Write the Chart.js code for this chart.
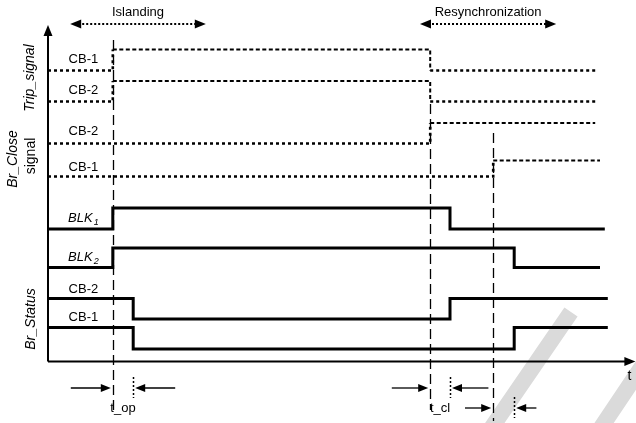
<!DOCTYPE html>
<html>
<head>
<meta charset="utf-8">
<title>Islanding and resynchronization timing</title>
<style>
  html, body { margin: 0; padding: 0; background: #ffffff; }
  #wrap { width: 636px; height: 423px; }
</style>
<script src="https://cdn.jsdelivr.net/npm/chart.js@4/dist/chart.umd.min.js"></script>
</head>
<body>
<div id="wrap"><canvas id="timing" width="636" height="423"></canvas></div>
<script>
// ---- Signals, top to bottom ----
const rowNames = ['CB-1', 'CB-2', 'CB-2', 'CB-1', 'BLK', 'BLK', 'CB-2', 'CB-1'];
const rowSubscripts = ['', '', '', '', '1', '2', '', ''];
const groupNames = ['Trip_signal', 'Br_Close', 'signal', 'Br_Status'];

// Switching instants (time units) and the logic state held from each instant on
const switchTimes = [
  [0, 10.8, 63.7, 91.3],   // Trip_signal CB-1
  [0, 10.8, 63.7, 91.3],   // Trip_signal CB-2
  [0, 63.7, 91.2],         // Br_Close CB-2
  [0, 74.2, 92.0],         // Br_Close CB-1
  [0, 10.8, 67.0, 92.8],   // BLK1
  [0, 10.8, 77.7, 92.0],   // BLK2
  [0, 14.2, 67.0, 93.3],   // Br_Status CB-2
  [0, 14.2, 77.7, 93.3]    // Br_Status CB-1
];
const switchStates = [
  [0, 1, 0, 0],
  [0, 1, 0, 0],
  [0, 1, 1],
  [0, 1, 1],
  [0, 1, 0, 0],
  [0, 1, 0, 0],
  [1, 0, 1, 1],
  [1, 0, 1, 1]
];

// Event instants: islanding command, trip reset, CB-1 close command
const eventTimes = [10.8, 63.7, 74.2];
// Measured delays
const delayLabels = ['t_op', 't_cl', ''];
const delayStart = [10.8, 63.7, 74.2];
const delayEnd = [14.2, 67.0, 77.7];
// Operating phases
const phaseLabels = ['Islanding', 'Resynchronization'];
const phaseStart = [3.7, 62.0];
const phaseEnd = [26.3, 84.7];

// ---- Layout (y scale runs top to bottom) ----
const rowLow   = [70.5, 101.5, 143.5, 176.5, 229, 267.5, 319, 349];
const rowHigh  = [49.5, 81, 123, 160.5, 208, 248, 298.5, 327.5];
const rowLabelY = [59, 90, 131, 167, 218, 257, 289, 317];
const rowDashed = [true, true, true, true, false, false, false, false];
const groupLabelX = [30, 13, 31, 31];
const groupLabelY = [78, 159, 156, 319];
const groupLabelFont = ['italic 14px', 'italic 14px', '14px', 'italic 14px'];

const X_MIN = -8, X_MAX = 98;
const AXIS_Y = 361.5, AXIS_TOP = 25, AXIS_END = 97.9;
const eventTop = [40, 104, 133];
const eventBottom = [412, 410, 421];
const delayRowY = [388, 388, 408];
const delayInLen = [7.0, 6.4, 4.7];
const delayOutLen = [7.0, 6.4, 3.7];
const PHASE_Y = 24, PHASE_LABEL_Y = 12;

const FONT = '"Liberation Sans", Arial, Helvetica, sans-serif';
const INK = '#000000';

function level(row, state) {
  return state ? rowHigh[row] : rowLow[row];
}

// dashed signals: the inactive level is a heavy dotted line, the active level a lighter dash
function dashedStyle(r, key) {
  return c => {
    if (!rowDashed[r]) return undefined;
    const active = switchStates[r][c.p0DataIndex] === 1;
    if (key === 'width') return active ? 2 : 2.6;
    return active ? [4, 2.5] : [3, 3];
  };
}

const datasets = rowNames.map((name, r) => ({
  label: name + rowSubscripts[r],
  data: switchTimes[r].map((t, i) => ({ x: t, y: level(r, switchStates[r][i]) })),
  stepped: 'before',
  borderColor: INK,
  borderWidth: rowDashed[r] ? 2.2 : 3,
  borderDash: rowDashed[r] ? [4, 3] : [],
  borderCapStyle: 'butt',
  borderJoinStyle: 'miter',
  segment: {
    borderWidth: dashedStyle(r, 'width'),
    borderDash: dashedStyle(r, 'dash')
  },
  pointRadius: 0,
  fill: false,
  tension: 0
}));

function arrowHead(ctx, x, y, angle, len, half) {
  ctx.save();
  ctx.translate(x, y);
  ctx.rotate(angle);
  ctx.beginPath();
  ctx.moveTo(0, 0);
  ctx.lineTo(-len, -half);
  ctx.lineTo(-len, half);
  ctx.closePath();
  ctx.fill();
  ctx.restore();
}

const diagramPlugin = {
  id: 'diagram',
  beforeDatasetsDraw(chart) {
    const ctx = chart.ctx;
    // faint diagonal bands in the lower right
    ctx.save();
    ctx.strokeStyle = '#dadada';
    ctx.lineWidth = 16;
    ctx.lineCap = 'butt';
    ctx.beginPath();
    ctx.moveTo(490, 430); ctx.lineTo(571, 312);
    ctx.moveTo(598, 432); ctx.lineTo(645, 362);
    ctx.stroke();
    ctx.restore();
  },
  afterDatasetsDraw(chart) {
    const ctx = chart.ctx;
    const xs = chart.scales.x, ys = chart.scales.y;
    const px = t => xs.getPixelForValue(t);
    const py = v => ys.getPixelForValue(v);
    ctx.save();
    ctx.fillStyle = INK;
    ctx.strokeStyle = INK;

    // event markers
    ctx.lineWidth = 1.3;
    ctx.setLineDash([10, 5]);
    eventTimes.forEach((t, i) => {
      const x = Math.round(px(t)) + 0.5;
      ctx.beginPath();
      ctx.moveTo(x, py(eventTop[i]));
      ctx.lineTo(x, py(eventBottom[i]));
      ctx.stroke();
    });

    // axes
    ctx.setLineDash([]);
    ctx.lineWidth = 2;
    const x0 = px(0), yA = py(AXIS_Y);
    ctx.beginPath();
    ctx.moveTo(x0, yA);
    ctx.lineTo(x0, py(AXIS_TOP) + 6);
    ctx.moveTo(x0, yA);
    ctx.lineTo(px(AXIS_END) - 6, yA);
    ctx.stroke();
    arrowHead(ctx, x0, py(AXIS_TOP), -Math.PI / 2, 11, 4.5);
    arrowHead(ctx, px(AXIS_END), yA, 0, 11, 4.5);
    ctx.font = '14px ' + FONT;
    ctx.textAlign = 'center';
    ctx.textBaseline = 'middle';
    ctx.fillText('t', px(AXIS_END) - 6, yA + 15);

    // operating phases
    phaseLabels.forEach((name, i) => {
      const a = px(phaseStart[i]), b = px(phaseEnd[i]), y = py(PHASE_Y);
      ctx.lineWidth = 2;
      ctx.setLineDash([2, 2]);
      ctx.beginPath();
      ctx.moveTo(a + 8, y);
      ctx.lineTo(b - 8, y);
      ctx.stroke();
      ctx.setLineDash([]);
      arrowHead(ctx, a, y, Math.PI, 11, 4.5);
      arrowHead(ctx, b, y, 0, 11, 4.5);
      ctx.font = '13px ' + FONT;
      ctx.fillText(name, (a + b) / 2, py(PHASE_LABEL_Y));
    });

    // measured delays
    delayLabels.forEach((name, i) => {
      const y = py(delayRowY[i]);
      const s = px(delayStart[i]), e = px(delayEnd[i]);
      ctx.lineWidth = 1.3;
      ctx.setLineDash([]);
      // arrow pointing at the start instant
      ctx.beginPath();
      ctx.moveTo(px(delayStart[i] - delayInLen[i]), y);
      ctx.lineTo(s - 8, y);
      ctx.stroke();
      arrowHead(ctx, s - 2, y, 0, 10, 4);
      // arrow pointing back at the end instant
      ctx.beginPath();
      ctx.moveTo(px(delayEnd[i] + delayOutLen[i]), y);
      ctx.lineTo(e + 8, y);
      ctx.stroke();
      arrowHead(ctx, e + 2, y, Math.PI, 10, 4);
      // end instant marker
      ctx.lineWidth = 1.5;
      ctx.setLineDash([2, 2]);
      const xe = Math.round(e) + 0.5;
      ctx.beginPath();
      ctx.moveTo(xe, y - 11);
      ctx.lineTo(xe, y + 10);
      ctx.stroke();
      ctx.setLineDash([]);
      if (name) {
        ctx.font = '13px ' + FONT;
        ctx.fillText(name, (s + e) / 2, y + 20);
      }
    });

    // row labels
    rowNames.forEach((name, r) => {
      const y = py(rowLabelY[r]);
      const cx = px(5.9);
      if (rowSubscripts[r]) {
        ctx.font = 'italic 13px ' + FONT;
        const w1 = ctx.measureText(name).width;
        ctx.font = 'italic 9px ' + FONT;
        const w2 = ctx.measureText(rowSubscripts[r]).width;
        const left = cx - (w1 + w2 + 1) / 2;
        ctx.textAlign = 'left';
        ctx.font = 'italic 13px ' + FONT;
        ctx.fillText(name, left, y);
        ctx.font = 'italic 9px ' + FONT;
        ctx.fillText(rowSubscripts[r], left + w1 + 1, y + 4);
        ctx.textAlign = 'center';
      } else {
        ctx.font = '13px ' + FONT;
        ctx.fillText(name, cx, y);
      }
    });

    // group labels, rotated
    groupNames.forEach((name, g) => {
      ctx.save();
      ctx.translate(groupLabelX[g], py(groupLabelY[g]));
      ctx.rotate(-Math.PI / 2);
      ctx.font = groupLabelFont[g] + ' ' + FONT;
      ctx.fillText(name, 0, 0);
      ctx.restore();
    });

    ctx.restore();
  }
};

new Chart(document.getElementById('timing').getContext('2d'), {
  type: 'line',
  data: { datasets },
  options: {
    responsive: false,
    animation: false,
    events: [],
    layout: { padding: 0 },
    plugins: {
      legend: { display: false },
      tooltip: { enabled: false }
    },
    scales: {
      x: { type: 'linear', min: X_MIN, max: X_MAX, display: false },
      y: { type: 'linear', min: 0, max: 423, reverse: true, display: false }
    }
  },
  plugins: [diagramPlugin]
});
</script>
</body>
</html>
